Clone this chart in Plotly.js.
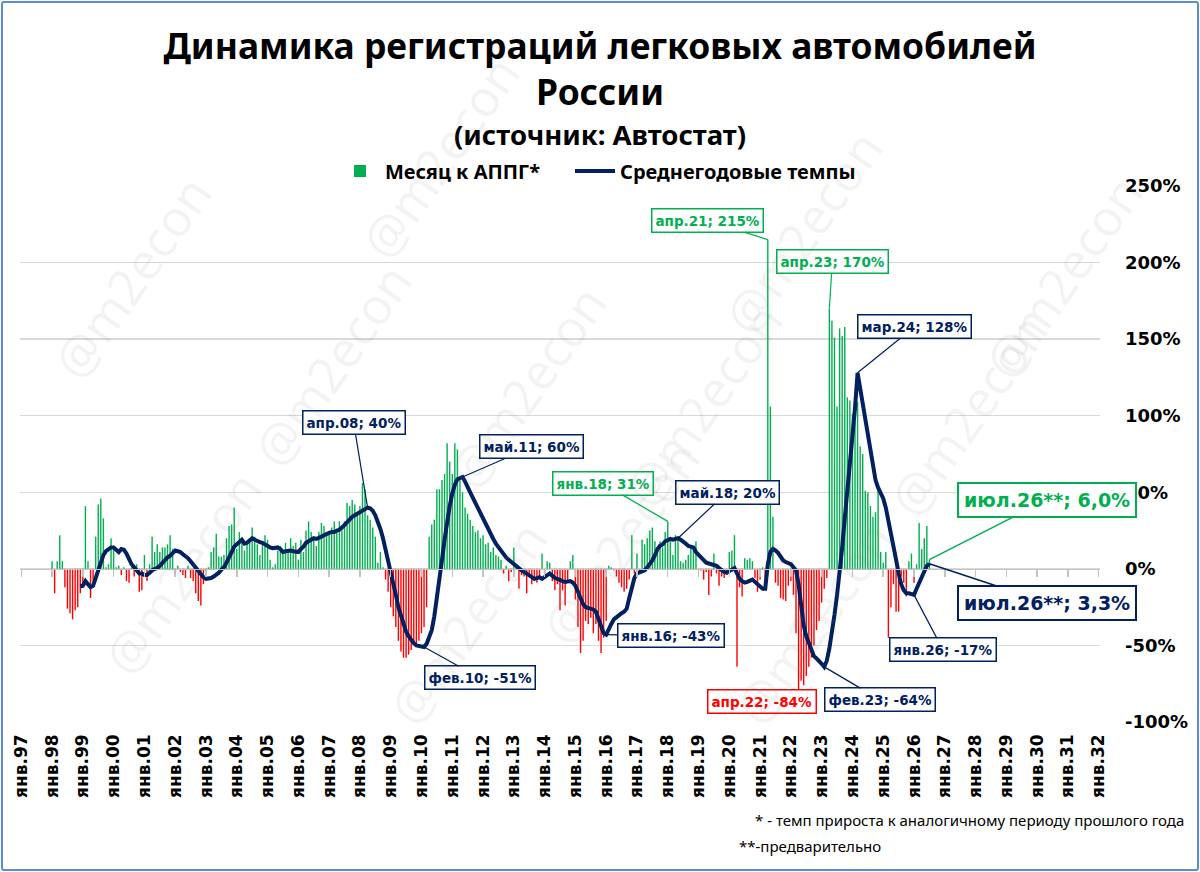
<!DOCTYPE html>
<html>
<head>
<meta charset="utf-8">
<script src="https://cdn.plot.ly/plotly-3.0.1.min.js"></script>
<style>
  html, body { margin: 0; padding: 0; background: #fff; }
  #wrap { position: relative; width: 1200px; height: 872px; }
  #chart { width: 1200px; height: 872px; }
  #frame { position: absolute; left: 1px; top: 1px; right: 1px; bottom: 1px;
           border: 2px solid #5b8bd0; border-radius: 3px; pointer-events: none; }
</style>
</head>
<body>
<div id="wrap"><div id="chart"></div><div id="frame"></div></div>
<script>
"use strict"

// ---- categories ----
const MONTHS = ["янв","фев","мар","апр","май","июн","июл","авг","сен","окт","ноя","дек"]
const YEARS = ["97","98","99","00","01","02","03","04","05","06","07","08","09","10","11",
  "12","13","14","15","16","17","18","19","20","21","22","23","24","25","26","27","28","29",
  "30","31","32"]

// ---- series: month vs same month of previous year, % (from янв.98) ----
const BAR_START = "янв.98"
const monthlyYoY = [
  /*1998*/ 5, -16, 5, 22, 5, -12, -26, -29, -33, -27, -25, -16,
  /*1999*/ -12, 41, 5, -19, -8, 21, 42, 46, 33, 1, 3, 20,
  /*2000*/ 13, 1, 2, -4, 1, -8, -9, 1, -5, 3, -15, -14,
  /*2001*/ 9, -8, 3, 21, 11, 16, 11, 14, 14, 16, 22, 13,
  /*2002*/ -4, 2, -2, -4, -6, 2, -6, -8, -16, -21, -24, -10,
  /*2003*/ -3, 1, 11, 14, 23, 8, 8, 9, 20, 28, 29, 40,
  /*2004*/ 13, 24, 19, 12, 17, 20, 27, 21, 16, 9, 17, 22,
  /*2005*/ 19, 6, 1, 3, 12, 15, 10, 17, 12, 20, 15, 17,
  /*2006*/ 6, 19, 11, 25, 31, 24, 20, 15, 24, 30, 28, 22,
  /*2007*/ 24, 27, 31, 24, 31, 25, 31, 43, 41, 45, 42, 36,
  /*2008*/ 41, 56, 52, 35, 32, 27, 21, 4, 11, 1, -7, -15,
  /*2009*/ -25, -31, -38, -47, -54, -58, -58, -56, -53, -49, -51, -47,
  /*2010*/ -42, -38, -25, 21, 29, 32, 52, 52, 58, 62, 82, 70,
  /*2011*/ 62, 82, 78, 60, 50, 40, 36, 32, 28, 24, 25, 20,
  /*2012*/ 22, 16, 17, 11, 14, 9, 8, 6, -3, 2, -8, -2,
  /*2013*/ 14, 3, -13, -4, -5, -16, -5, -10, -8, -9, -6, 10,
  /*2014*/ -3, 5, 4, -8, -14, -10, -27, -14, -24, -8, 5, 9,
  /*2015*/ -20, -38, -55, -47, -34, -36, -32, -42, -36, -47, -55, -45,
  /*2016*/ -34, 2, 1, -1, -5, -9, -12, -15, -13, -7, 22, -3,
  /*2017*/ 10, -3, 19, 16, 20, 25, 27, 18, 14, 18, 14, 24,
  /*2018*/ 31, 18, 9, 22, 20, 5, 4, 6, 9, 15, 12, 18,
  /*2019*/ -1, -1, -7, -2, -17, -5, 10, -3, -11, -5, -6, -4,
  /*2020*/ 11, 12, 22, -64, -12, -18, 7, 6, 7, 5, -6, -15,
  /*2021*/ -7, 1, -13, 215, 106, 34, -9, -11, -19, -20, -21, -11,
  /*2022*/ -8, -17, -42, -84, -73, -76, -70, -64, -58, -50, -40, -34,
  /*2023*/ -22, -13, -6, 170, 162, 151, 106, 157, 152, 158, 112, 110,
  /*2024*/ 101, 96, 109, 80, 75, 51, 50, 41, 34, 37, 52, 11,
  /*2025*/ 4, 11, -45, -25, -10, -28, -28, -5, -9, -18, 5, 10,
  /*2026*/ -9, 3, 30, 13, 20, 28, 6.0
]

// ---- series: average annual growth rate, % (from дек.98) ----
const LINE_START = "дек.98"
const avgYoY = [
  /*1998*/ -11.5,
  /*1999*/ -11, -8, -10, -12, -11, -6, 0, 5, 9, 11.5, 13, 14,
  /*2000*/ 14, 12, 11, 13, 12.5, 10, 6, 3, 1, -1, -3, -3,
  /*2001*/ -4, -4, -2, -1, 0, 0.5, 2, 4, 6, 7.5, 8.5, 10,
  /*2002*/ 12, 11.5, 11, 9.5, 8.5, 7, 5, 3, 1, -2, -4, -5.5,
  /*2003*/ -6.5, -6.5, -6, -5, -4, -2.5, -0.5, 1, 4, 8, 11.5, 14.5,
  /*2004*/ 16, 18, 19, 16.5, 17, 18.5, 20, 19, 18, 17.5, 17, 16,
  /*2005*/ 14.5, 14, 13.5, 13.5, 14, 13, 11, 11.5, 12, 12, 11.5, 11,
  /*2006*/ 11, 13, 14.5, 17, 18, 19.5, 20, 19.5, 20, 21, 22, 23,
  /*2007*/ 23.5, 24, 24, 25, 25.5, 27, 29, 31, 32.5, 34, 35, 36,
  /*2008*/ 37.5, 38.5, 39.5, 40, 39.5, 38, 35, 31, 26, 20, 13, 6,
  /*2009*/ -1, -9, -17, -25, -31, -37, -41, -44, -46.5, -48.5, -50, -50.5,
  /*2010*/ -50.8, -51, -49, -45, -40, -31, -20, -7, 6, 19, 31, 41,
  /*2011*/ 49, 55, 58.5, 59.5, 60, 57, 54, 50, 46.5, 43, 39.5, 36,
  /*2012*/ 32.5, 29, 26, 22.5, 19.5, 16.5, 14, 12, 9.5, 7.5, 6, 4.5,
  /*2013*/ 3, 1.5, 0, -1, -2, -3, -4.5, -5.5, -6.5, -6, -5.5, -6.5,
  /*2014*/ -5.5, -4, -3, -4.5, -6, -6.5, -7.5, -8, -8.5, -8, -8, -9,
  /*2015*/ -11, -15, -19, -23, -25, -25.5, -26, -26.5, -28, -33, -38, -42,
  /*2016*/ -43, -39, -36, -33, -31.5, -30, -29, -28, -26, -19, -12, -6,
  /*2017*/ -3, -2.5, -2, -1, 1, 3, 5.5, 9, 13, 15, 16, 18,
  /*2018*/ 19, 19.5, 19, 19.5, 20, 19, 18, 16.5, 15, 14.5, 14, 11,
  /*2019*/ 9, 7.5, 6, 4, 3.5, 3, 2.5, 2, 0.5, -1, -2, -2.5,
  /*2020*/ -1.5, -0.5, 0.5, -3, -6.5, -8, -9, -8.5, -8, -7, -8.5, -10,
  /*2021*/ -11, -13, -13, 3, 11, 13, 12, 10.5, 8, 5.5, 4.5, 3.5,
  /*2022*/ 3, 1, -1, -10, -25, -37, -44, -49, -54, -57, -58.5, -60,
  /*2023*/ -62, -64, -60, -52, -42, -30, -17, -4, 14, 33, 50, 68,
  /*2024*/ 86, 105, 128, 118, 107, 97, 86, 75, 65, 58, 53, 49,
  /*2025*/ 46, 40, 32, 25, 16, 6, -3, -10, -14, -16, -16, -16.5,
  /*2026*/ -17, -13, -9, -5, -1, 2, 3.3
]

const Y_TICKS = [-100, -50, 0, 50, 100, 150, 200, 250]
const Y_TICKTEXT = ["-100%", "-50%", "0%", "50%", "100%", "150%", "200%", "250%"]

const GREEN = "#00B050"
const RED = "#FF0000"
const NAVY = "#002060"

// build category list янв.97 .. янв.32
const categories = []
YEARS.forEach(y => MONTHS.forEach(m => categories.push(m + "." + y)))
categories.length = categories.indexOf("янв.32") + 1
const yearTicks = YEARS.map(y => "янв." + y)

const pad = (arr, start) => {
  const s = categories.indexOf(start)
  return categories.map((c, i) => (i >= s && i - s < arr.length) ? arr[i - s] : null)
}
const barY = pad(monthlyYoY, BAR_START)
const lineY = pad(avgYoY, LINE_START)
const barColors = barY.map(v => v !== null && v < 0 ? RED : GREEN)

const valueOf = (series, label) => (series === "bar" ? barY : lineY)[categories.indexOf(label)]

// callouts: which point, and where its box sits (pixel offset)
const callouts = [
  {month: "апр.08", series: "line", ax: -14, ay: -85},
  {month: "май.11", series: "line", ax: 69, ay: -30},
  {month: "фев.10", series: "line", ax: 56, ay: 31},
  {month: "янв.18", series: "bar",  ax: -65, ay: -38},
  {month: "май.18", series: "line", ax: 49, ay: -46},
  {month: "янв.16", series: "line", ax: 65, ay: 1},
  {month: "апр.21", series: "bar",  ax: -60, ay: -19},
  {month: "апр.23", series: "bar",  ax: 3, ay: -47},
  {month: "мар.24", series: "line", ax: 57, ay: -46},
  {month: "апр.22", series: "bar",  ax: -37, ay: 4},
  {month: "фев.23", series: "line", ax: 56, ay: 33},
  {month: "янв.26", series: "line", ax: 29, ay: 55},
  {month: "июл.26", series: "bar",  ax: 118, ay: -60, prelim: true},
  {month: "июл.26", series: "line", ax: 118, ay: 39, prelim: true},
]

const annotations = callouts.map(c => {
  const v = valueOf(c.series, c.month)
  const color = c.series === "line" ? NAVY : (v < 0 ? RED : GREEN)
  const text = c.prelim
    ? c.month + "**; " + v.toFixed(1).replace(".", ",") + "%"
    : c.month + "; " + Math.round(v) + "%"
  return {
    x: c.month, y: v, xref: c.series === "line" ? "x2" : "x", yref: "y",
    text: text, showarrow: true, arrowhead: 0, arrowwidth: c.prelim ? 1.5 : 1.2,
    arrowcolor: color, ax: c.ax, ay: c.ay, standoff: 0,
    bgcolor: "#fff", bordercolor: color, borderwidth: c.prelim ? 2 : 1.5, borderpad: c.prelim ? 5 : 3,
    font: {family: "DejaVu Sans", size: c.prelim ? 19 : 13.5, color: color, weight: "bold"},
  }
})

const px2x = X => (X - 20) / 1080
const px2y = Y => (722 - Y) / 536

// subtitle under the main title
annotations.push({
  xref: "paper", yref: "paper", x: px2x(600), y: px2y(134), xanchor: "center", yanchor: "middle",
  showarrow: false, text: "(источник: Автостат)",
  font: {family: "Noto Sans", size: 27.5, color: "#000", weight: "bold"}
})

// notes under the chart
annotations.push({
  xref: "paper", yref: "paper", x: px2x(1186), y: px2y(820), xanchor: "right", yanchor: "middle",
  showarrow: false, text: "* - темп прироста к аналогичному периоду прошлого года",
  font: {family: "Noto Sans", size: 15, color: "#000"}
})
annotations.push({
  xref: "paper", yref: "paper", x: px2x(737), y: px2y(846), xanchor: "left", yanchor: "middle",
  showarrow: false, text: "**-предварительно",
  font: {family: "Noto Sans", size: 15, color: "#000"}
})

// watermarks
const marks = [[35,160],[235,365],[440,40],[527,270],[900,115],[800,405],[1065,415],
  [85,690],[370,740],[620,660],[910,740],[1160,160]]
marks.forEach(([X, Y]) => annotations.push({
  xref: "paper", yref: "paper", x: px2x(X), y: px2y(Y), showarrow: false,
  text: "@m2econ", textangle: -55,
  font: {family: "Open Sans", size: 50, color: "rgba(120,120,120,0.09)"}
}))

const data = [
  {
    type: "bar", name: "Месяц к АППГ*", x: categories, y: barY,
    marker: {color: barColors}, xaxis: "x", yaxis: "y", hoverinfo: "x+y",
    legend: "legend",
  },
  {
    type: "scatter", mode: "lines", name: "Среднегодовые темпы", x: categories, y: lineY,
    line: {color: NAVY, width: 4}, xaxis: "x2", yaxis: "y", connectgaps: false,
    legend: "legend2",
  },
]

const legendStyle = {
  orientation: "h", xanchor: "left", y: px2y(171), yanchor: "middle",
  font: {family: "Noto Sans", size: 20, color: "#000", weight: "bold"},
  bgcolor: "rgba(0,0,0,0)", itemwidth: 40,
}

const layout = {
  width: 1200, height: 872,
  margin: {l: 20, r: 100, t: 186, b: 150, pad: 0},
  paper_bgcolor: "#fff", plot_bgcolor: "#fff",
  bargap: 0.45,
  showlegend: true,
  title: {
    text: "Динамика регистраций легковых автомобилей<br>России",
    font: {family: "Noto Sans", size: 35.4, color: "#000", weight: "bold"},
    x: 0.5, xref: "container", xanchor: "center",
    y: 1 - 59 / 872, yref: "container", yanchor: "middle",
  },
  legend: Object.assign({x: px2x(335)}, legendStyle),
  legend2: Object.assign({x: px2x(570)}, legendStyle),
  xaxis: {
    type: "category", categoryorder: "array", categoryarray: categories,
    range: [-0.5, categories.length - 0.5],
    tickmode: "array", tickvals: yearTicks, ticktext: yearTicks, tickangle: -90,
    tickfont: {family: "DejaVu Sans", size: 17, color: "#000", weight: "bold"},
    ticklabelstandoff: 8,
    showgrid: false, zeroline: false, showline: false, ticks: "", anchor: "y",
    fixedrange: true,
  },
  xaxis2: {
    type: "category", categoryorder: "array", categoryarray: categories,
    matches: "x", overlaying: "x", anchor: "free", position: 100 / 350,
    tickmode: "array", tickvals: yearTicks,
    showticklabels: false, showgrid: false, zeroline: false,
    showline: true, linecolor: "#c3c3c3", linewidth: 1.5,
    ticks: "outside", ticklen: 7, tickcolor: "#c3c3c3", tickwidth: 1.5,
  },
  yaxis: {
    side: "right", range: [-100, 250],
    tickmode: "array", tickvals: Y_TICKS, ticktext: Y_TICKTEXT,
    tickfont: {family: "DejaVu Sans", size: 18, color: "#000", weight: "bold"},
    ticklabelstandoff: 24,
    showgrid: true, gridcolor: "#d9d9d9", gridwidth: 1.5,
    zeroline: false, showline: false, ticks: "", fixedrange: true,
  },
  annotations: annotations,
}

Plotly.newPlot("chart", data, layout, {displayModeBar: false, staticPlot: true})
</script>
</body>
</html>
